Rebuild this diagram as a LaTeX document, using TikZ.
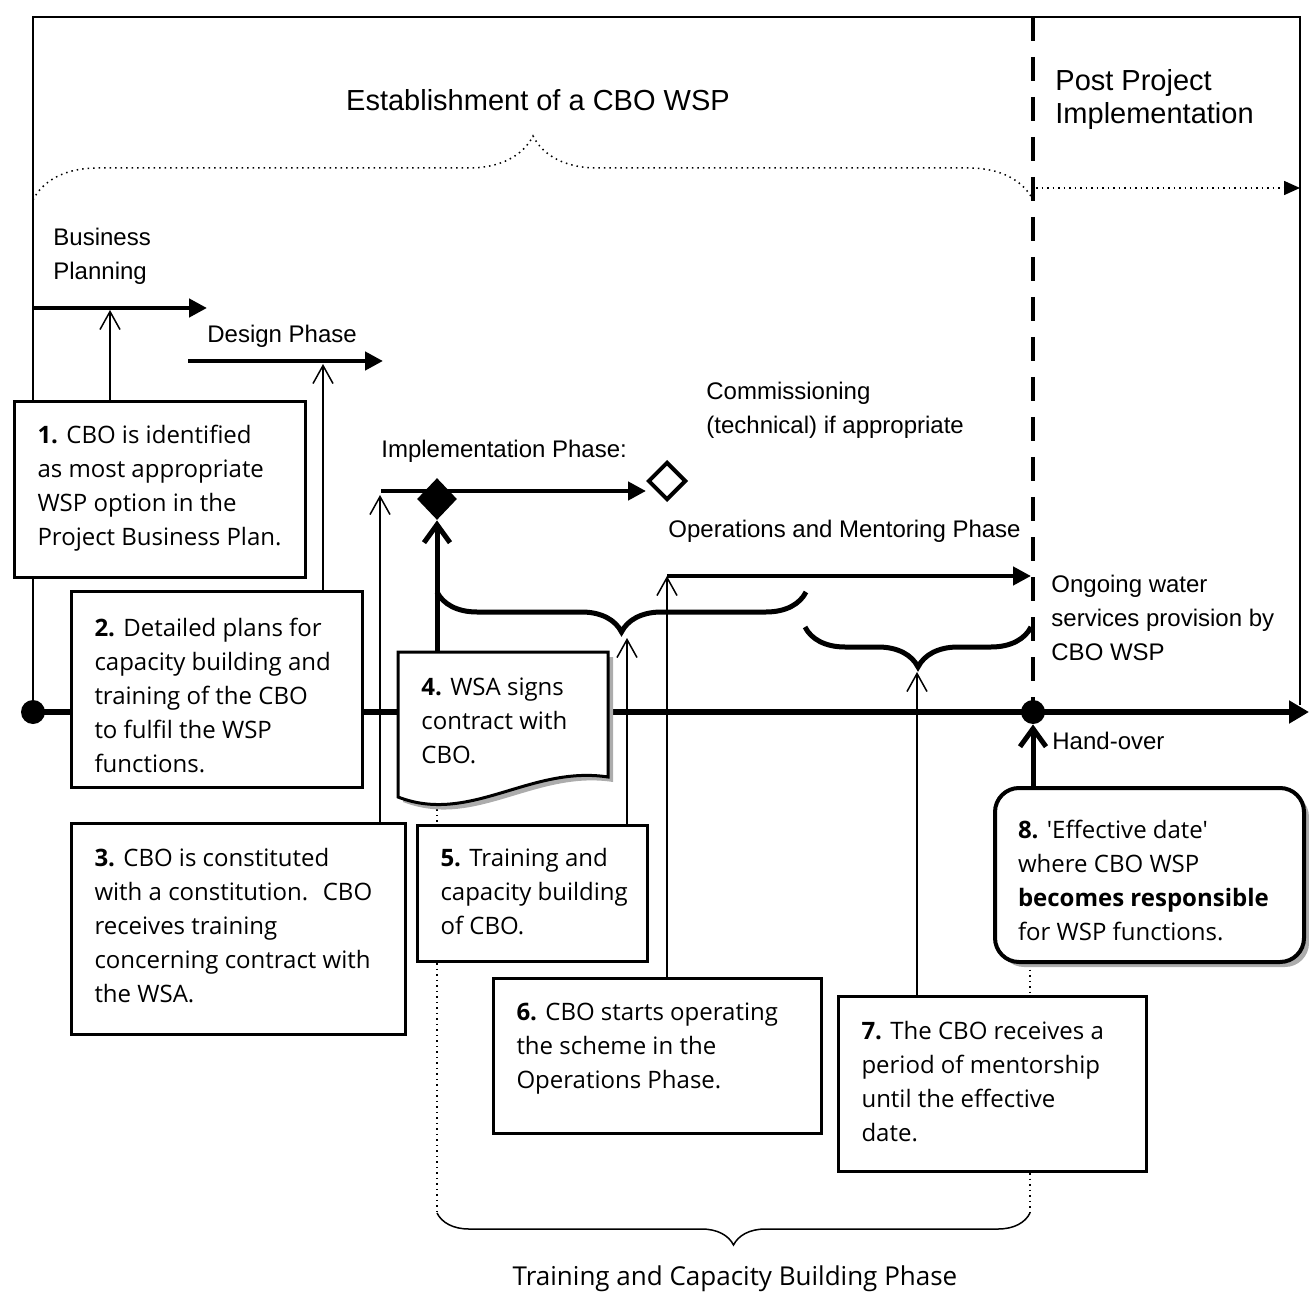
\documentclass[tikz,border=0pt]{standalone}
\usepackage{fontspec}
\setmainfont{Liberation Sans}
\newfontfamily\boxfont{Open Sans}
\usetikzlibrary{arrows.meta, shapes.geometric, decorations.pathreplacing, shadows}
\pgfdeclarelayer{bg}
\pgfsetlayers{bg,main}

% box text: width, height, first baseline, lines
\newcommand{\boxtext}[4]{\parbox[t][#2][t]{#1}{\boxfont\fontsize{12}{17}\selectfont\raggedright\leftskip=11.5pt\rule{0pt}{#3}#4}}

\begin{document}
\begin{tikzpicture}[x=0.5pt, y=-0.5pt,
    lbl/.style={inner sep=0pt, align=left, font=\fontsize{12}{17}\selectfont},
    big/.style={inner sep=0pt, align=left, font=\fontsize{14.5}{16.5}\selectfont},
    box/.style={draw, line width=1.5pt, fill=white, inner sep=0pt, anchor=north west},
    phase/.style={line width=2.2pt, -{Triangle[length=9pt,width=9pt]}},
    link/.style={line width=0.75pt, -{Straight Barb[length=9pt,width=10pt]}},
    push/.style={line width=2.5pt, -{Straight Barb[length=9pt,width=13pt]}},
    bigbrace/.style={line width=2.5pt, decorate, decoration={brace, amplitude=20pt}},
    dot/.style={circle, fill, inner sep=0pt, minimum size=12pt}]
    \useasboundingbox (0,0) rectangle (1309,1293);

    % Labels
    \node[big, anchor=base] (estab) at (538,111) {Establishment of a CBO WSP};
    \node[big, anchor=west] (post) at (1055,100) {Post Project\\Implementation};
    \node[lbl, anchor=west] (bizplan) at (53,256) {Business\\Planning};
    \node[lbl, anchor=base west] (design) at (207,343) {Design Phase};
    \node[lbl, anchor=base west] (impl) at (381,458) {Implementation Phase:};
    \node[lbl, anchor=west] (comm) at (706,410) {Commissioning\\(technical) if appropriate};
    \node[lbl, anchor=base west] (opsmen) at (668,537) {Operations and Mentoring Phase};
    \node[lbl, anchor=west] (ongoing) at (1051,618) {Ongoing water\\services provision by\\CBO WSP};
    \node[lbl, anchor=base west] (handover) at (1052,749) {Hand-over};
    \node[anchor=base, inner sep=0pt, font=\boxfont\fontsize{13}{17}\selectfont] (tcb) at (735,1285) {Training and Capacity Building Phase};

    % Milestones
    \node[diamond, fill, inner sep=0pt, minimum width=20pt, minimum height=21pt] (fd) at (437,499) {};
    \node[diamond, draw, line width=2pt, fill=white, inner sep=0pt, minimum width=19pt, minimum height=19pt] (od) at (667,481) {};
    \node[dot] (t0) at (33,712) {};
    \node[dot] (ho) at (1033,712) {};

    % Points on the phase lines
    \coordinate (bp a) at (33,308);   \coordinate (bp b) at (207,308);  \coordinate (bp hit) at (110,310);
    \coordinate (dp a) at (188,361);  \coordinate (dp b) at (383,361);  \coordinate (dp hit) at (323,364);
    \coordinate (ip a) at (381,491);  \coordinate (ip hit) at (380,495);
    \coordinate (ops a) at (667,576); \coordinate (ops b) at (1031,576);
    \coordinate (br1 a) at (437,592); \coordinate (br1 b) at (806,592); \coordinate (br1 hit) at (627,638);
    \coordinate (br2 a) at (805,627); \coordinate (br2 b) at (1031,627); \coordinate (br2 hit) at (917,672);
    \coordinate (tl end) at (1309,712);
    \coordinate (div top) at (1033,17);
    \coordinate (est a) at (33,200);  \coordinate (est b) at (1033,200);
    \coordinate (post a) at (1036,188); \coordinate (post b) at (1300,188);
    \coordinate (tcb a) at (437,1213); \coordinate (tcb b) at (1030,1213);
    \coordinate (frame tl) at (33,17); \coordinate (frame br) at (1300,705);

    % Steps
    \node[box] (b1) at (13,400) {\boxtext{145.5pt}{88pt}{21pt}{\textbf{1.} CBO is identified\\as most appropriate\\WSP option in the\\Project Business Plan.}};
    \node[box] (b2) at (70,590) {\boxtext{145.5pt}{98pt}{22.5pt}{\textbf{2.} Detailed plans for\\capacity building and\\training of the CBO\\to fulfil the WSP\\functions.}};
    \node[box] (b3) at (70,822) {\boxtext{167pt}{105.5pt}{21.5pt}{\textbf{3.} CBO is constituted\\with a constitution.~ CBO\\receives training\\concerning contract with\\the WSA.}};
    % contract document
    \fill[gray!65, shift={(5,5)}] (398,652) -- (608,652) -- (608,777) .. controls (530,765) and (470,825) .. (398,797) -- cycle;
    \draw[line width=1.5pt, fill=white] (398,652) -- (608,652) -- (608,777) .. controls (530,765) and (470,825) .. (398,797) -- cycle;
    \node[inner sep=0pt, anchor=north west] (b4) at (398,652) {\boxtext{105pt}{70pt}{21.5pt}{\textbf{4.} WSA signs\\contract with\\CBO.}};
    \node[box] (b5) at (416,824) {\boxtext{115pt}{68pt}{20.5pt}{\textbf{5.} Training and\\capacity building\\of CBO.}};
    \node[box] (b6) at (492,977) {\boxtext{164pt}{77.5pt}{21pt}{\textbf{6.} CBO starts operating\\the scheme in the\\Operations Phase.}};
    \node[box] (b7) at (837,995) {\boxtext{154pt}{87.5pt}{21.5pt}{\textbf{7.} The CBO receives a\\period of mentorship\\until the effective\\date.}};
    \node[box, rounded corners=12pt, line width=2pt,
          drop shadow={shadow xshift=2.5pt, shadow yshift=-2.5pt, fill=gray!65, opacity=1}] (b8) at (993,786)
          {\boxtext{154.5pt}{87pt}{25pt}{\textbf{8.} \textquotesingle Effective date'\\where CBO WSP\\\textbf{becomes responsible}\\for WSP functions.}};

    \begin{pgfonlayer}{bg}
    % Frame and establishment brace
    \draw[line width=0.75pt] (t0.center) -- (frame tl) -| (frame br);
    \draw[line width=0.75pt, dotted, decorate, decoration={brace, amplitude=32pt}] (est a) -- (est b);
    \draw[line width=0.75pt, dotted, -{Triangle[length=8pt,width=7pt]}] (post a) -- (post b);
    \draw[line width=2pt, dash pattern=on 12pt off 8pt] (div top) -- (ho.center);
    % Time line
    \draw[line width=3pt, -{Triangle[length=10pt,width=11pt]}] (t0.center) -- (tl end);
    % Phases
    \draw[phase] (bp a) -- (bp b);
    \draw[phase] (dp a) -- (dp b);
    \draw[phase] (ip a) -- (od.west |- ip a);
    \draw[phase] (ops a) -- (ops b);
    % Braces
    \draw[bigbrace] (br1 b) -- (br1 a);
    \draw[bigbrace] (br2 b) -- (br2 a);
    \draw[line width=0.75pt, decorate, decoration={brace, amplitude=16pt}] (tcb b) -- (tcb a);
    \draw[line width=0.75pt, dotted] (b4.south -| tcb a) -- (tcb a);
    \draw[line width=0.75pt, dotted] (b8.south -| tcb b) -- (tcb b);
    % Links from the steps
    \draw[link] (b1.north -| bp hit) -- (bp hit);
    \draw[link] (b2.north -| dp hit) -- (dp hit);
    \draw[link] (b3.north -| ip hit) -- (ip hit);
    \draw[link] (b5.north -| br1 hit) -- (br1 hit);
    \draw[link] (b6.north -| ops a) -- (ops a);
    \draw[link] (b7.north -| br2 hit) -- (br2 hit);
    \draw[push] (b4.north -| fd) -- (fd.south);
    \draw[push] (b8.north -| ho) -- (ho.south);
    \end{pgfonlayer}
\end{tikzpicture}
\end{document}
